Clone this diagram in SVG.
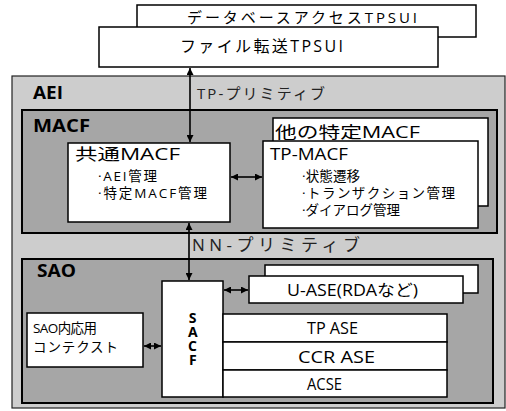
<svg xmlns="http://www.w3.org/2000/svg" width="506" height="411" viewBox="0 0 506 411">
<defs>
<marker id="ah" viewBox="0 0 8 8" refX="8" refY="4" markerWidth="7" markerHeight="7" markerUnits="userSpaceOnUse" orient="auto-start-reverse">
<path d="M0,0 L8,4 L0,8 Z" fill="#000"/>
</marker>
<style>
text{font-family:"Open Sans","Noto Sans CJK JP",sans-serif;fill:#000}
.box{fill:#fff;stroke:#000;stroke-width:1.5}
.t15{font-size:15px}
.t16{font-size:16px}
.t13{font-size:13.5px}
.hd{font-size:16px}
.lbl{font-size:17px;font-weight:bold}
.prim{fill:#222}
.conn{stroke:#000;stroke-width:1.6;fill:none;marker-start:url(#ah);marker-end:url(#ah)}
</style>
</defs>
<rect width="506" height="411" fill="#fff"/>

<g id="tpsui-db">
<rect class="box" x="137" y="5" width="339" height="32"/>
<text class="t15" x="187" y="23" textLength="230" lengthAdjust="spacing">データベースアクセスTPSUI</text>
</g>
<g id="tpsui-file">
<rect class="box" x="99" y="27" width="339" height="40"/>
<text class="t16" x="180" y="52" textLength="163" lengthAdjust="spacing">ファイル転送TPSUI</text>
</g>

<g id="aei">
<rect x="12" y="76" width="493" height="332" fill="#cdcdcd" stroke="#222" stroke-width="1.2"/>
<text class="lbl" x="33" y="99" textLength="30" lengthAdjust="spacingAndGlyphs">AEI</text>
<text class="prim" x="197" y="99" textLength="128" lengthAdjust="spacing" style="font-size:15px">TP-プリミティブ</text>
<text class="prim" x="192" y="251" textLength="168" lengthAdjust="spacing" style="font-size:17px">NN-プリミティブ</text>
</g>

<g id="macf">
<rect x="22" y="110" width="475" height="123" fill="#a6a6a6" stroke="#000" stroke-width="2"/>
<text class="lbl" x="33" y="132" textLength="57" lengthAdjust="spacingAndGlyphs">MACF</text>
</g>

<g id="other-macf">
<rect class="box" x="273" y="118" width="215" height="88"/>
<text class="hd" x="275" y="138" textLength="145" lengthAdjust="spacingAndGlyphs">他の特定MACF</text>
</g>

<g id="common-macf">
<rect class="box" x="68" y="143" width="162" height="79"/>
<text class="hd" x="75" y="160" textLength="105" lengthAdjust="spacingAndGlyphs">共通MACF</text>
<text class="t13" x="98" y="181" textLength="59" lengthAdjust="spacing">·AEI管理</text>
<text class="t13" x="98" y="198" textLength="109" lengthAdjust="spacing">·特定MACF管理</text>
</g>

<g id="tp-macf">
<rect class="box" x="263" y="141" width="215" height="87"/>
<text class="hd" x="270" y="160" textLength="78" lengthAdjust="spacingAndGlyphs">TP-MACF</text>
<text class="t13" x="302" y="181" textLength="58" lengthAdjust="spacing">·状態遷移</text>
<text class="t13" x="302" y="198" textLength="153" lengthAdjust="spacing">·トランザクション管理</text>
<text class="t13" x="302" y="215" textLength="98" lengthAdjust="spacing">·ダイアログ管理</text>
</g>

<g id="sao">
<rect x="22" y="259" width="471" height="144" fill="#a6a6a6" stroke="#000" stroke-width="2"/>
<text class="lbl" x="37" y="277" textLength="39" lengthAdjust="spacingAndGlyphs">SAO</text>
</g>

<g id="sao-context">
<rect class="box" x="27" y="313" width="116" height="54"/>
<text class="t13" x="33" y="333" textLength="64" lengthAdjust="spacing">SAO内応用</text>
<text class="t13" x="33" y="352" textLength="85" lengthAdjust="spacing">コンテクスト</text>
</g>

<g id="sacf">
<rect class="box" x="162" y="281" width="61" height="116"/>
<text x="192.5" y="308" style="font-size:14px;font-weight:bold;writing-mode:vertical-rl;text-orientation:upright;letter-spacing:-5px">SACF</text>
</g>

<g id="u-ase-back">
<rect class="box" x="265" y="265" width="213" height="28"/>
</g>
<g id="u-ase">
<rect class="box" x="249" y="276" width="214" height="27"/>
<text class="t16" x="287" y="296" textLength="131" lengthAdjust="spacingAndGlyphs">U-ASE(RDAなど)</text>
</g>

<g id="tp-ase">
<rect class="box" x="223" y="314" width="224" height="28"/>
<text class="t16" x="307" y="334" textLength="51" lengthAdjust="spacingAndGlyphs">TP ASE</text>
</g>
<g id="ccr-ase">
<rect class="box" x="223" y="342" width="224" height="28"/>
<text class="t16" x="298" y="363" textLength="77" lengthAdjust="spacingAndGlyphs">CCR ASE</text>
</g>
<g id="acse">
<rect class="box" x="223" y="370" width="224" height="27"/>
<text class="t16" x="307" y="390" textLength="35" lengthAdjust="spacingAndGlyphs">ACSE</text>
</g>

<g id="connectors">
<line class="conn" x1="190" y1="68" x2="190" y2="142"/>
<line class="conn" x1="231" y1="177" x2="262" y2="177"/>
<line class="conn" x1="189" y1="223" x2="189" y2="280"/>
<line class="conn" x1="224" y1="290" x2="248" y2="290"/>
<line class="conn" x1="144" y1="346" x2="161" y2="346"/>
</g>
</svg>
